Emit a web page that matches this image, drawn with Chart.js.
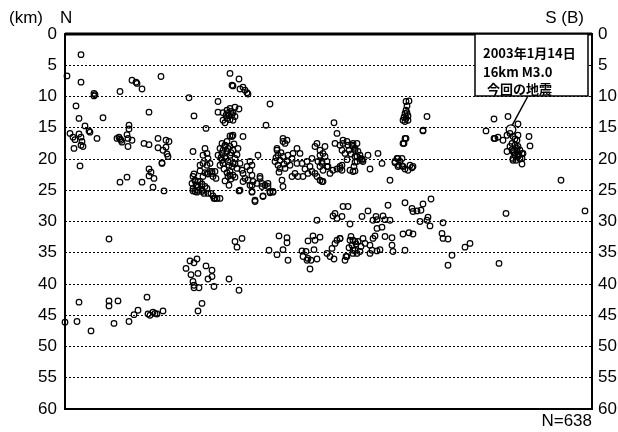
<!DOCTYPE html>
<html>
<head>
<meta charset="utf-8">
<script src="https://cdn.jsdelivr.net/npm/chart.js@4"></script>
<style>
html, body { margin: 0; padding: 0; background: #fff; }
</style>
</head>
<body>
<canvas id="quakeChart" width="618" height="432"></canvas>
<script>
// 深さ目盛 (km)
const depthTicks = [0, 5, 10, 15, 20, 25, 30, 35, 40, 45, 50, 55, 60];
const distRange = [0, 527];   // 断面方向の距離 (N→S, 相対値)

// 震源 [距離, 深さkm] 地域ごと
const northShallow = [
  [16,3.3],[2,6.7],[16,7.7],[29,9.5],[29,9.9],[30,9.7],[55,9.2],[67,7.4],[71,7.7],[72,7.9],[77,8.8],[96,6.8],
  [124,10.2],[11,11.5],[14,13.5],[38,13.4],[84,12.5],[129,13.1],[153,10.8],[153,12.5],[20,14.7],[24,15.5],[25,15.7],
  [5,15.9],[8,16.5],[10,16.9],[9,18.3],[14,16],[16,16.5],[17,17.2],[18,18],[16,17.8],[32,16.7],[54,16.5],[56,17],
  [57,17.3],[52,16.7],[55,16.8],[64,14.6],[64,15.2],[62,16.1],[63,16.7],[67,17],[63,18],[79,17.5],[84,17.7],[93,16.7],
  [93,18.2],[101,17],[104,17.2],[101,18.1],[98,18.6],[103,19.6],[102,19.2],[97,20.6],[15,21.1],
  [84,21.6],[86,22.1],[84,22.7],[89,23.1],[88,24.5],[97,20.7],[99,25.1],[55,23.7],[62,22.9],[77,23.7]
];
const northDeep = [
  [44,32.8],[14,42.9],[44,42.7],[44,43.5],[53,42.7],[82,42.1],[73,44.2],[69,44.9],[83,44.8],[85,45],[88,44.5],
  [90,44.7],[92,44.8],[98,44.3],[64,46],[49,46.3],[26,47.5],[12,46],[0,46.1],
  [121,37.5],[125,36.3],[129,36.6],[141,37.1],[147,37.8],[147,38.8],[143,39.2],[133,38.3],[128,39.6],[129,40.2],
  [129,40.6],[134,40.6],[149,40.4],[137,43.1],[133,44.3],[164,39.2],[174,41],[132,36],[126,38.5]
];
const upperCluster = [
  [165,6.3],[174,7.2],[167,8.2],[168,8.3],[175,8.8],[178,8.5],[180,9],[182,9.4],[183,9.6],[141,15.1],[205,11.2],
  [201,14.6],[269,14.2],[162,12.2],[165,11.9],[170,11.7],[174,12],[158,12.6],[163,12.7],[167,12.9],[170,13.2],
  [162,13.5],[165,13.7],[168,13.8],[158,13.8],[160,14.2],[166,12.4],[164,13.1],[168,12.6],[161,13.0]
];
const westCluster = [
  [128,22.8],[130,23.5],[131,24.2],[133,24.5],[128,25.1],[132,25.3],[137,25],[139,25.5],[142,24.7],[146,25.5],
  [149,26.3],[152,26.3],[143,22.4],[147,22],[151,23.1],[140,22.2],[135,21.9],[129,22.4],[133,23.6],[137,24],
  [128,18.8],[140,18.3],[142,19.1],[138,19.4],[143,19.9],[138,20.7],[135,21],[142,21],[145,20.7],[127,23.9],
  [132,24.2],[135,23.6],[128,24.7],[133,25],[137,25.2],[130,25.2],[140,24.4],[143,25.5],[148,22.8],[145,22],
  [142,22.3],[147,22.3],[150,22],[138,22.8],[130,23.4],
  [157,17.5],[162,17.2],[167,16.4],[168,16.2],[165,16.3],[155,18.3],[158,18.6],[162,18.8],[157,19.1],[160,19.6],
  [165,19.4],[170,19.9],[163,20.4],[168,20.7],[167,21.2],[172,21.5],[165,22],[168,22.6],[163,22.8],[158,20.7],
  [155,21],[157,20.2],[153,19.4],[160,18],[165,18],[168,18.6],[173,18.3],[175,20.7],[177,21.8],[178,22.3],
  [182,21.2],[185,21.8],[187,22.6],[180,23.1],[183,23.4],[188,23.6],[192,23.9],[185,24.2],[195,23.1],[197,23.9],
  [200,24.2],[203,24.4],[208,25.2],[205,25.4],[175,25],[187,25.2],[190,26.6],[198,25.9],[193,19.4],[178,16.4],
  [185,20.4],[187,21],[150,26.3],[155,26.3],[148,25.9],
  [160,17.8],[163,18.3],[166,19],[161,19.9],[164,21],[170,20.8],[159,21.6],[162,22.2],[166,23.2],[170,22.9],
  [156,19.8],[169,17.6],[172,19.3],[160,23.5],[164,24.2],
  [174,25.1],[187,25.3],[190,26.8],[198,26],[205,25.2],[208,25.3],[197,24.4],[203,23.9],[195,22.8],[217,23.4],
  [218,24.4],[187,24.2],[178,23.6],[165,22.6]
];
const centralCluster = [
  [212,18.6],[213,19.4],[215,20.2],[210,20.4],[213,21],[218,19.6],[222,20.4],[225,21],[220,21.5],[215,21.5],
  [222,17],[220,17.5],[232,18.3],[228,19.1],[235,19.1],[227,19.9],[232,20.7],[237,20.7],[242,20.4],[247,19.9],
  [250,18],[252,17.5],[255,18.6],[258,19.1],[253,20.4],[257,20.7],[260,19.6],[262,21.2],[230,22.3],[233,22.8],
  [238,22.8],[243,22.3],[247,22],[252,22.8],[255,23.4],[258,23.6],[227,22.8],[218,16.7],[218,17.2],[212,18.3],
  [255,19.4],[257,20.4],[255,21.2],[258,21.8],[257,23.6],[260,18],[262,20.4],[263,21.2],[265,22.3],[268,21.8],
  [272,21.6],[275,21.5],[277,21],[270,17.5],[272,15.9],[275,17.8],[278,17.5],[282,17.2],[283,17.8],[287,17.8],
  [288,17.5],[292,17.5],[290,18.3],[293,18.8],[290,19.6],[295,19.4],[292,20.4],[297,20.2],[298,20.4],[303,19.4],
  [313,19.1],[317,20.7],[305,21.6],[288,22],[290,21.9],[325,23.4],[330,20.4],[333,19.9],[337,19.9],[334,21],
  [338,21.2],[340,21.6],[343,21.8],[348,21.2],[338,17.5],[341,16.7],[358,15.5],
  [278,17],[277,18.6],[280,19.1],[288,18],[290,18.6],[292,19.6],[295,19.9],[275,21.2],[277,21.8],[297,20],
  [290,20.5],[330,20.6],[333,21.2],[337,21.1],[345,21],[347,21.4],[332,19.9],[335,20.4],
  [216,19.0],[219,20.8],[211,19.8],[223,19.4],[214,22.1],[284,18.6],[286,19.2],[282,20.1],[289,21.2],[285,21.8],
  [250,22.3],[245,21.2],[240,21.6]
];
const eastCluster = [
  [341,10.8],[344,10.7],[341,12.2],[340,12.7],[339,13.3],[343,13.1],[340,14],[338,13.8],[343,13.8],[342,12.6],
  [362,13.2],[358,15.4],[340,16.7],[339,17.5],[341,13.5],[342,11.5],
  [429,13.6],[421,15.5],[453,14.4],[429,16.7],[433,16.5],[438,17],[442,16.2],[445,15.9],[448,16.4],[453,16.2],
  [452,17],[447,17.5],[450,17.8],[453,18],[445,18],[442,18.8],[448,18.8],[452,18.8],[455,18.6],[457,19.1],
  [450,19.4],[453,19.6],[448,19.9],[457,19.9],[458,19.1],[457,20.8],[464,16.4],[465,17.9],[430,16.7],[443,13.2],
  [452,18.3],[449,19.0],[454,19.3],[451,20.2],[455,20.0],[447,18.5],[450,16.8],[448,20.2],
  [496,23.4],[520,28.3],[441,28.7],[434,36.7]
];
const centralDeep = [
  [170,33.2],[177,32.7],[172,34.1],[252,29.8],[270,28.7],[272,29.5],[278,27.6],[283,27.6],[277,29.2],[285,30.4],
  [268,29.1],[204,34.6],[212,35.3],[218,34.5],[214,32.3],[222,32.6],[222,33.4],[223,36.2],[243,33.1],[248,32.3],
  [250,33],[255,32.5],[249,34.5],[237,34.7],[241,34.8],[238,35.6],[243,35.9],[242,36.2],[246,36.2],[252,36],
  [245,37.6],[262,35.1],[267,34.3],[270,33.5],[272,33],[275,32.7],[265,35.6],[269,36],[280,36.2],[282,35.6],
  [285,33],[287,33.8],[288,34.6],[290,33.2],[292,35.1],[297,29.2],[303,28.3],[308,29.8],[311,29.2],[312,29.7],
  [318,29.1],[320,29.7],[325,29.8],[323,27.4],[312,31.1],[317,30.9],[340,27],[347,27.9],[348,28.4],[352,28.3],
  [356,28.2],[358,27.2],[366,26.4],[355,30],[362,29.8],[363,29.3],[365,30.7],[378,30.2],[338,32],[344,31.8],
  [348,32],[377,31.9],[378,32.7],[383,32.8],[400,34.1],[405,33.5],[387,35.4],[383,37],[288,33],[293,33.2],
  [298,32.7],[308,32.7],[310,32.3],[320,32.4],[327,32.6],[275,32.7],[290,34.6],[295,34.8],[305,33.8],[307,34.6],
  [312,34.7],[315,34.5],[327,33.8],[328,34.8],[340,34.6],[281,35.6],[305,35.1],[288,35.1],
  [286,32.4],[291,33.6],[296,34],[284,34.2],[300,33.5]
];
// 今回の地震 2003年1月14日 16km M3.0
const mainShock = [[446,15.3]];
const totalCount = 638;

const allEvents = [].concat(northShallow, northDeep, upperCluster, westCluster,
  centralCluster, eastCluster, centralDeep).map(p => ({x: p[0], y: p[1]}));

const FONT = "'Liberation Sans', Arial, sans-serif";
const JP_FONT = "'Noto Sans CJK JP', sans-serif";

// 枠・見出し・注記を描くプラグイン
const framePlugin = {
  id: 'frame',
  afterDatasetsDraw(chart) {
    const {ctx, chartArea: a} = chart;
    ctx.save();
    ctx.strokeStyle = '#000';
    ctx.lineWidth = 2;
    ctx.strokeRect(a.left, a.top, a.right - a.left, a.bottom - a.top);
    ctx.lineWidth = 3;
    ctx.beginPath();
    ctx.moveTo(a.left, a.top);
    ctx.lineTo(a.right, a.top);
    ctx.stroke();

    // 注記の箱
    const bx = a.right - 117, by = a.top, bw = 113, bh = 62;
    ctx.fillStyle = '#fff';
    ctx.fillRect(bx, by, bw, bh);
    ctx.lineWidth = 1.5;
    ctx.strokeRect(bx, by, bw, bh);
    ctx.fillStyle = '#000';
    ctx.font = 'bold 13px ' + JP_FONT;
    ctx.textBaseline = 'middle';
    ctx.textAlign = 'left';
    ctx.fillText('2003年1月14日', bx + 8, by + 19);
    ctx.fillText('16km M3.0', bx + 8, by + 38);
    ctx.fillText('今回の地震', bx + 12, by + 55);

    // 引き出し線
    const px = chart.scales.x.getPixelForValue(mainShock[0][0]);
    const py = chart.scales.y.getPixelForValue(mainShock[0][1]);
    ctx.lineWidth = 1.5;
    ctx.beginPath();
    ctx.moveTo(bx + 53, by + bh);
    ctx.lineTo(px + 1, py - 4);
    ctx.stroke();

    // 見出し
    ctx.font = '17px ' + FONT;
    ctx.textBaseline = 'middle';
    ctx.textAlign = 'left';
    ctx.fillText('(km)', 9, 18);
    ctx.fillText('N', 60, 18);
    ctx.textAlign = 'right';
    ctx.fillText('S (B)', 584, 18);
    ctx.fillText('N=' + totalCount, a.right, 421);
    ctx.restore();
  }
};

const ctx = document.getElementById('quakeChart').getContext('2d');
const chart = new Chart(ctx, {
  type: 'scatter',
  data: {
    datasets: [
      {
        label: '震源',
        data: allEvents,
        pointStyle: 'circle',
        pointRadius: 2.8,
        borderWidth: 1.2,
        borderColor: '#000',
        backgroundColor: 'rgba(0,0,0,0)',
        clip: false
      },
      {
        label: '今回の地震',
        data: mainShock.map(p => ({x: p[0], y: p[1]})),
        pointRadius: 4.8,
        borderWidth: 1.3,
        borderColor: '#000',
        backgroundColor: 'rgba(255,255,255,0.6)',
        clip: false
      }
    ]
  },
  options: {
    responsive: false,
    animation: false,
    layout: { padding: { top: 34, bottom: 23, left: 0, right: 0 } },
    plugins: {
      legend: { display: false },
      tooltip: { enabled: false }
    },
    scales: {
      x: {
        type: 'linear',
        min: distRange[0],
        max: distRange[1],
        display: false
      },
      y: {
        position: 'left',
        reverse: true,
        min: depthTicks[0],
        max: depthTicks[depthTicks.length - 1],
        afterBuildTicks(scale) { scale.ticks = depthTicks.map(v => ({value: v})); },
        afterFit(scale) { scale.width = 65; },
        ticks: { color: '#000', font: { size: 17, family: FONT }, padding: 8 },
        grid: { color: '#000', lineWidth: 1, drawTicks: false },
        border: { display: false, dash: [2, 2] }
      },
      y2: {
        position: 'right',
        reverse: true,
        min: depthTicks[0],
        max: depthTicks[depthTicks.length - 1],
        afterBuildTicks(scale) { scale.ticks = depthTicks.map(v => ({value: v})); },
        afterFit(scale) { scale.width = 26; },
        ticks: { color: '#000', font: { size: 17, family: FONT }, padding: 6 },
        grid: { display: false, drawTicks: false },
        border: { display: false }
      }
    }
  },
  plugins: [framePlugin]
});
</script>
</body>
</html>
